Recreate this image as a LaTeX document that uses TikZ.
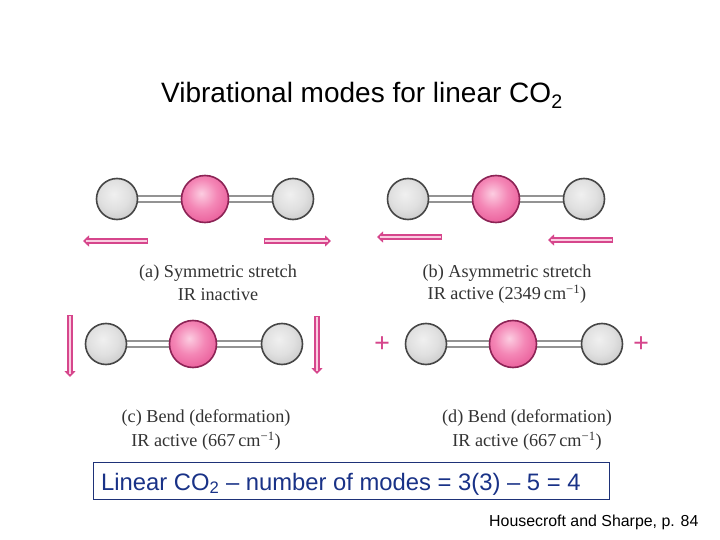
\documentclass[tikz,border=0pt]{standalone}
\usepackage{fontspec}
\setmainfont{Liberation Serif}
\newfontfamily\arialf{Liberation Sans}
\usetikzlibrary{arrows.meta,calc}
\definecolor{pinkA}{RGB}{214,70,140}
\definecolor{pinkB}{RGB}{250,205,225}
\definecolor{ringD}{RGB}{70,70,70}
\definecolor{ringP}{RGB}{140,35,85}
\definecolor{boxc}{RGB}{30,50,120}
\definecolor{navyt}{RGB}{25,50,135}
\definecolor{ga}{RGB}{240,240,240}
\definecolor{gb}{RGB}{224,224,224}
\definecolor{gc}{RGB}{192,192,192}
\definecolor{gd}{RGB}{150,150,150}
\definecolor{pa}{RGB}{252,205,225}
\definecolor{pb}{RGB}{244,135,182}
\definecolor{pc}{RGB}{230,80,145}
\definecolor{pd}{RGB}{200,45,115}
\pgfdeclareradialshading{grayball}{\pgfpoint{-4bp}{6bp}}{
  color(0bp)=(ga);color(18bp)=(gb);color(38bp)=(gc);color(50bp)=(gd);color(100bp)=(gd)}
\pgfdeclareradialshading{pinkball}{\pgfpoint{-4bp}{6bp}}{
  color(0bp)=(pa);color(16bp)=(pb);color(36bp)=(pc);color(50bp)=(pd);color(100bp)=(pd)}
\tikzset{
  x=1pt,y=-1pt,
  grayatom/.style={circle,minimum size=41pt,inner sep=0pt,draw=ringD,line width=1.6pt,shading=grayball},
  pinkatom/.style={circle,minimum size=47pt,inner sep=0pt,draw=ringP,line width=1.6pt,shading=pinkball},
  bondline/.style={draw=gray!85,line width=8pt},
  bondcore/.style={draw=white,line width=4pt},
  modearrow/.style={line width=5.5pt,draw=pinkA,-{Triangle[length=6pt,width=11pt,fill=pinkA]}},
  modecore/.style={line width=1.4pt,draw=pinkB},
  caption/.style={font=\fontsize{18.2}{18}\selectfont,inner sep=0pt,text=black!80,anchor=center},
  plussign/.style={font=\fontsize{28}{28}\selectfont\bfseries,text=pinkA,inner sep=0pt},
  sanslabel/.style={inner sep=0pt,anchor=base west,text=black},
}
\begin{document}
\begin{tikzpicture}
\useasboundingbox (0,0) rectangle (720,540);
\fill[white] (0,0) rectangle (720,540);
\node[sanslabel,font=\arialf\fontsize{28}{28}\selectfont] (title) at (161,103) {Vibrational modes for linear CO\textsubscript{2}};
% atoms
\foreach \n/\xa/\xb/\xc/\yy in {a/117/205/293/199,b/408/496/584/199,c/106/193/282/344,d/426/513/602/344}{
  \coordinate (\n C) at (\xb,\yy);
  \path (\xa,\yy) coordinate (\n L) (\xc,\yy) coordinate (\n R);
  \draw[bondline] (\n L) -- (\n R);
  \draw[bondcore] (\n L) -- (\n R);
  \node[pinkatom] (\n M) at (\n C) {};
  \node[grayatom] (\n G) at (\n L) {};
  \node[grayatom] (\n H) at (\n R) {};
}
% arrows
\foreach \s/\ax/\ay/\bx/\by in {p/148/241/83/241,q/264/241/331/241,r/442/237/377/237,s/613/240/548/240,t/70/315/70/377,u/317/316/317/374}{
  \coordinate (\s1) at (\ax,\ay);
  \coordinate (\s2) at (\bx,\by);
  \draw[modearrow] (\s1) -- (\s2);
  \draw[modecore,shorten >=3pt,shorten <=1pt] (\s1) -- (\s2);
}
\node[plussign] (plus1) at (382,345) {+};
\node[plussign] (plus2) at (641,345) {+};
% captions
\node[caption] (ca1) at (218,273) {(a) Symmetric stretch};
\node[caption] (ca2) at (218,295) {IR inactive};
\node[caption] (cb1) at (507,273) {(b) Asymmetric stretch};
\node[caption] (cb2) at (507,294) {IR active (2349\,cm\textsuperscript{−1})};
\node[caption] (cc1) at (206,418) {(c) Bend (deformation)};
\node[caption] (cc2) at (206,441) {IR active (667\,cm\textsuperscript{−1})};
\node[caption] (cd1) at (527,418) {(d) Bend (deformation)};
\node[caption] (cd2) at (527,441) {IR active (667\,cm\textsuperscript{−1})};
% box
\draw[boxc,line width=1pt] (93,462) rectangle (609,499);
\node[sanslabel,text=navyt,font=\arialf\fontsize{23.8}{24}\selectfont] (boxt) at (101,490) {Linear CO\textsubscript{2} – number of modes = 3(3) – 5 = 4};
\node[sanslabel,font=\arialf\fontsize{15.9}{16}\selectfont] (src) at (489,526) {Housecroft and Sharpe, p. 84};
\end{tikzpicture}
\end{document}
